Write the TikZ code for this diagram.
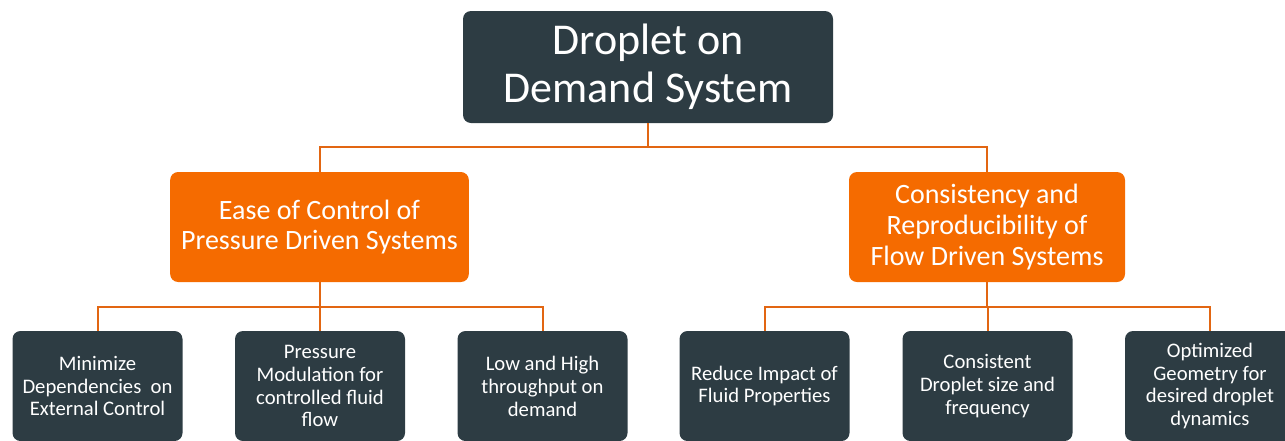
\documentclass[tikz,border=0pt]{standalone}
\usepackage{fontspec}
\setmainfont{Carlito}
\usepackage{tikz}

\definecolor{slate}{RGB}{45,60,67}
\definecolor{tangerine}{RGB}{245,107,0}
\definecolor{wire}{RGB}{226,102,18}

\tikzset{
	box/.style={rounded corners=6pt, align=center, text=white, inner sep=2pt},
	rootbox/.style={box, fill=slate, minimum width=277.5pt, minimum height=84pt,
		font=\fontsize{33}{36}\selectfont},
	midbox/.style={box, fill=tangerine, minimum height=82.5pt,
		font=\fontsize{21}{23}\selectfont},
	leafbox/.style={box, fill=slate, minimum width=127.5pt, minimum height=82.5pt,
		font=\fontsize{15.5}{17.2}\selectfont},
	link/.style={wire, line width=1.5pt}
}

\begin{document}
\begin{tikzpicture}[x=0.75pt,y=-0.75pt]
	
	\clip (0,0) rectangle (1285,440);
	\useasboundingbox (0,0) rectangle (1285,440);
	
	\node[rootbox] (root) at (648,67) {Droplet on\\Demand System};
	
	\node[midbox, minimum width=224pt] (ease) at (319.5,227) {Ease of Control of\\Pressure Driven Systems};
	\node[midbox, minimum width=207pt] (cons) at (987,227) {Consistency and\\Reproducibility of\\Flow Driven Systems};
	
	\node[leafbox] (mini) at (97.5,386) {Minimize\\Dependencies \ on\\External Control};
	\node[leafbox] (pres) at (320,386) {Pressure\\Modulation for\\controlled fluid\\flow};
	\node[leafbox] (thru) at (542.5,386) {Low and High\\throughput on\\demand};
	
	\node[leafbox] (fluid) at (764.5,386) {Reduce Impact of\\Fluid Properties};
	\node[leafbox] (size) at (987.5,386) {Consistent\\Droplet size and\\frequency};
	\node[leafbox] (geom) at (1210,386) {Optimized\\Geometry for\\desired droplet\\dynamics};
	
	\draw[link] (root.south) -- ++(0,24) -| (ease.north);
	\draw[link] (root.south) -- ++(0,24) -| (cons.north);
	
	\foreach \leaf in {mini,pres,thru}
		\draw[link] (ease.south) -- ++(0,25) -| (\leaf.north);
	\foreach \leaf in {fluid,size,geom}
		\draw[link] (cons.south) -- ++(0,25) -| (\leaf.north);
	
\end{tikzpicture}
\end{document}
